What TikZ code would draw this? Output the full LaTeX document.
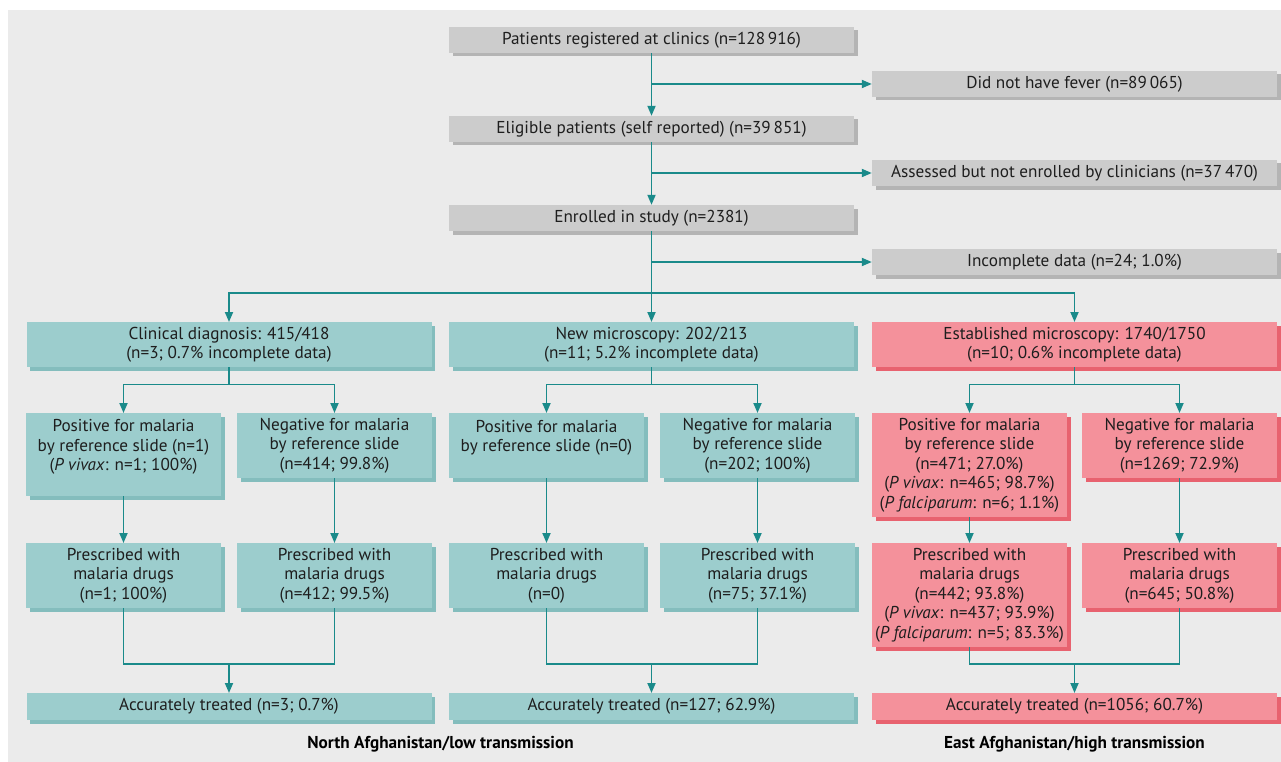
\documentclass[tikz,border=0pt]{standalone}
\usepackage{fontspec}
\setmainfont{PT Sans}
\usetikzlibrary{arrows.meta,shadows}
\definecolor{bgc}{HTML}{EBEBEB}
\definecolor{gfill}{HTML}{CCCCCC}
\definecolor{gshad}{HTML}{B4B4B4}
\definecolor{tfill}{HTML}{9CCDCD}
\definecolor{tshad}{HTML}{84BDBD}
\definecolor{pfill}{HTML}{F4919B}
\definecolor{pshad}{HTML}{E8626F}
\definecolor{linec}{HTML}{1A8A8A}
\definecolor{txt}{HTML}{1E1E1E}
\tikzset{
  base/.style={inner sep=0pt, align=center, text=txt, font=\fontsize{17.2}{19.5}\selectfont},
  gbox/.style={base, fill=gfill, minimum height=26pt,
    drop shadow={shadow xshift=3.5pt, shadow yshift=-3.5pt, fill=gshad, opacity=1}},
  tbox/.style={base, fill=tfill,
    drop shadow={shadow xshift=3.5pt, shadow yshift=-3.5pt, fill=tshad, opacity=1}},
  pbox/.style={base, fill=pfill,
    drop shadow={shadow xshift=3.5pt, shadow yshift=-3.5pt, fill=pshad, opacity=1}},
  wide/.style={minimum width=405pt},
  narrow/.style={minimum width=195pt},
  arr/.style={draw=linec, line width=1.8pt, -{Triangle[length=10pt,width=8pt]}},
  ln/.style={draw=linec, line width=1.8pt},
  foot/.style={font=\bfseries\fontsize{17.2}{19}\selectfont, text=black}
}
\begin{document}
\begin{tikzpicture}[x=1pt,y=-1pt]
\useasboundingbox (0,0) rectangle (1281,762);
\fill[bgc] (8,10) rectangle (1281,762);

% top gray boxes
\node[gbox,wide] (reg) at (651.5,40) {Patients registered at clinics (n=128\,916)};
\node[gbox,wide] (fever) at (1074.5,84) {Did not have fever (n=89\,065)};
\node[gbox,wide] (elig) at (651.5,129) {Eligible patients (self reported) (n=39\,851)};
\node[gbox,wide] (asses) at (1074.5,173) {Assessed but not enrolled by clinicians (n=37\,470)};
\node[gbox,wide] (enrol) at (651.5,218) {Enrolled in study (n=2381)};
\node[gbox,wide] (incom) at (1074.5,262) {Incomplete data (n=24; 1.0\%)};

% second row
\node[tbox,wide,minimum height=45pt,anchor=north] (cd) at (229,322) {Clinical diagnosis: 415/418\\(n=3; 0.7\% incomplete data)};
\node[tbox,wide,minimum height=45pt,anchor=north] (nm) at (651.5,322) {New microscopy: 202/213\\(n=11; 5.2\% incomplete data)};
\node[pbox,wide,minimum height=45pt,anchor=north] (em) at (1074.5,322) {Established microscopy: 1740/1750\\(n=10; 0.6\% incomplete data)};

% third row
\node[tbox,narrow,minimum height=83pt,anchor=north] (cdp) at (123.5,413) {Positive for malaria\\by reference slide (n=1)\\(\textit{P vivax}: n=1; 100\%)\\\mbox{}};
\node[tbox,narrow,minimum height=65pt,anchor=north] (cdn) at (334.5,413) {Negative for malaria\\by reference slide\\(n=414; 99.8\%)};
\node[tbox,narrow,minimum height=65pt,anchor=north] (nmp) at (546.5,413) {Positive for malaria\\by reference slide (n=0)\\\mbox{}};
\node[tbox,narrow,minimum height=65pt,anchor=north] (nmn) at (757.5,413) {Negative for malaria\\by reference slide\\(n=202; 100\%)};
\node[pbox,narrow,minimum height=104pt,anchor=north] (emp) at (969.5,413) {Positive for malaria\\by reference slide\\(n=471; 27.0\%)\\(\textit{P vivax}: n=465; 98.7\%)\\(\textit{P falciparum}: n=6; 1.1\%)};
\node[pbox,narrow,minimum height=65pt,anchor=north] (emn) at (1179.5,413) {Negative for malaria\\by reference slide\\(n=1269; 72.9\%)};

% fourth row
\node[tbox,narrow,minimum height=65pt,anchor=north] (cdpr) at (123.5,543) {Prescribed with\\malaria drugs\\(n=1; 100\%)};
\node[tbox,narrow,minimum height=65pt,anchor=north] (cdnr) at (334.5,543) {Prescribed with\\malaria drugs\\(n=412; 99.5\%)};
\node[tbox,narrow,minimum height=65pt,anchor=north] (nmpr) at (546.5,543) {Prescribed with\\malaria drugs\\(n=0)};
\node[tbox,narrow,minimum height=65pt,anchor=north] (nmnr) at (757.5,543) {Prescribed with\\malaria drugs\\(n=75; 37.1\%)};
\node[pbox,narrow,minimum height=104pt,anchor=north] (empr) at (969.5,543) {Prescribed with\\malaria drugs\\(n=442; 93.8\%)\\(\textit{P vivax}: n=437; 93.9\%)\\(\textit{P falciparum}: n=5; 83.3\%)};
\node[pbox,narrow,minimum height=65pt,anchor=north] (emnr) at (1179.5,543) {Prescribed with\\malaria drugs\\(n=645; 50.8\%)};

% fifth row
\node[tbox,wide,minimum height=27pt,anchor=north] (cda) at (229,693) {Accurately treated (n=3; 0.7\%)};
\node[tbox,wide,minimum height=27pt,anchor=north] (nma) at (651.5,693) {Accurately treated (n=127; 62.9\%)};
\node[pbox,wide,minimum height=27pt,anchor=north] (ema) at (1074.5,693) {Accurately treated (n=1056; 60.7\%)};

% footers
\node[foot] (fn) at (440.5,744) {North Afghanistan/low transmission};
\node[foot] (fe) at (1074.5,744) {East Afghanistan/high transmission};

% connectors: top
\draw[arr] (reg) -- (elig);
\draw[arr] (elig) -- (enrol);
\draw[arr] (enrol) -- (nm);
\draw[arr] (reg.south |- fever.west) -- (fever.west);
\draw[arr] (elig.south |- asses.west) -- (asses.west);
\draw[arr] (enrol.south |- incom.west) -- (incom.west);
\coordinate (b0) at (651.5,293);
\draw[arr] (b0) -| (cd.north);
\draw[arr] (b0) -| (em.north);

% branches
\foreach \p/\a/\b in {cd/cdp/cdn, nm/nmp/nmn, em/emp/emn}{
  \coordinate (\p-br) at ([yshift=-17pt]\p.south);
  \draw[ln] (\p.south) -- (\p-br);
  \draw[arr] (\p-br) -| (\a.north);
  \draw[arr] (\p-br) -| (\b.north);
}
\foreach \a/\b in {cdp/cdpr, cdn/cdnr, nmp/nmpr, nmn/nmnr, emp/empr, emn/emnr}{
  \draw[arr] (\a) -- (\b);
}
% merges
\foreach \a/\b/\c in {cdpr/cdnr/cda, nmpr/nmnr/nma, empr/emnr/ema}{
  \coordinate (\c-m) at (\c.north |- 0,664);
  \draw[ln] (\a.south) |- (\c-m) -| (\b.south);
  \draw[arr] (\c-m) -- (\c.north);
}
\end{tikzpicture}
\end{document}
